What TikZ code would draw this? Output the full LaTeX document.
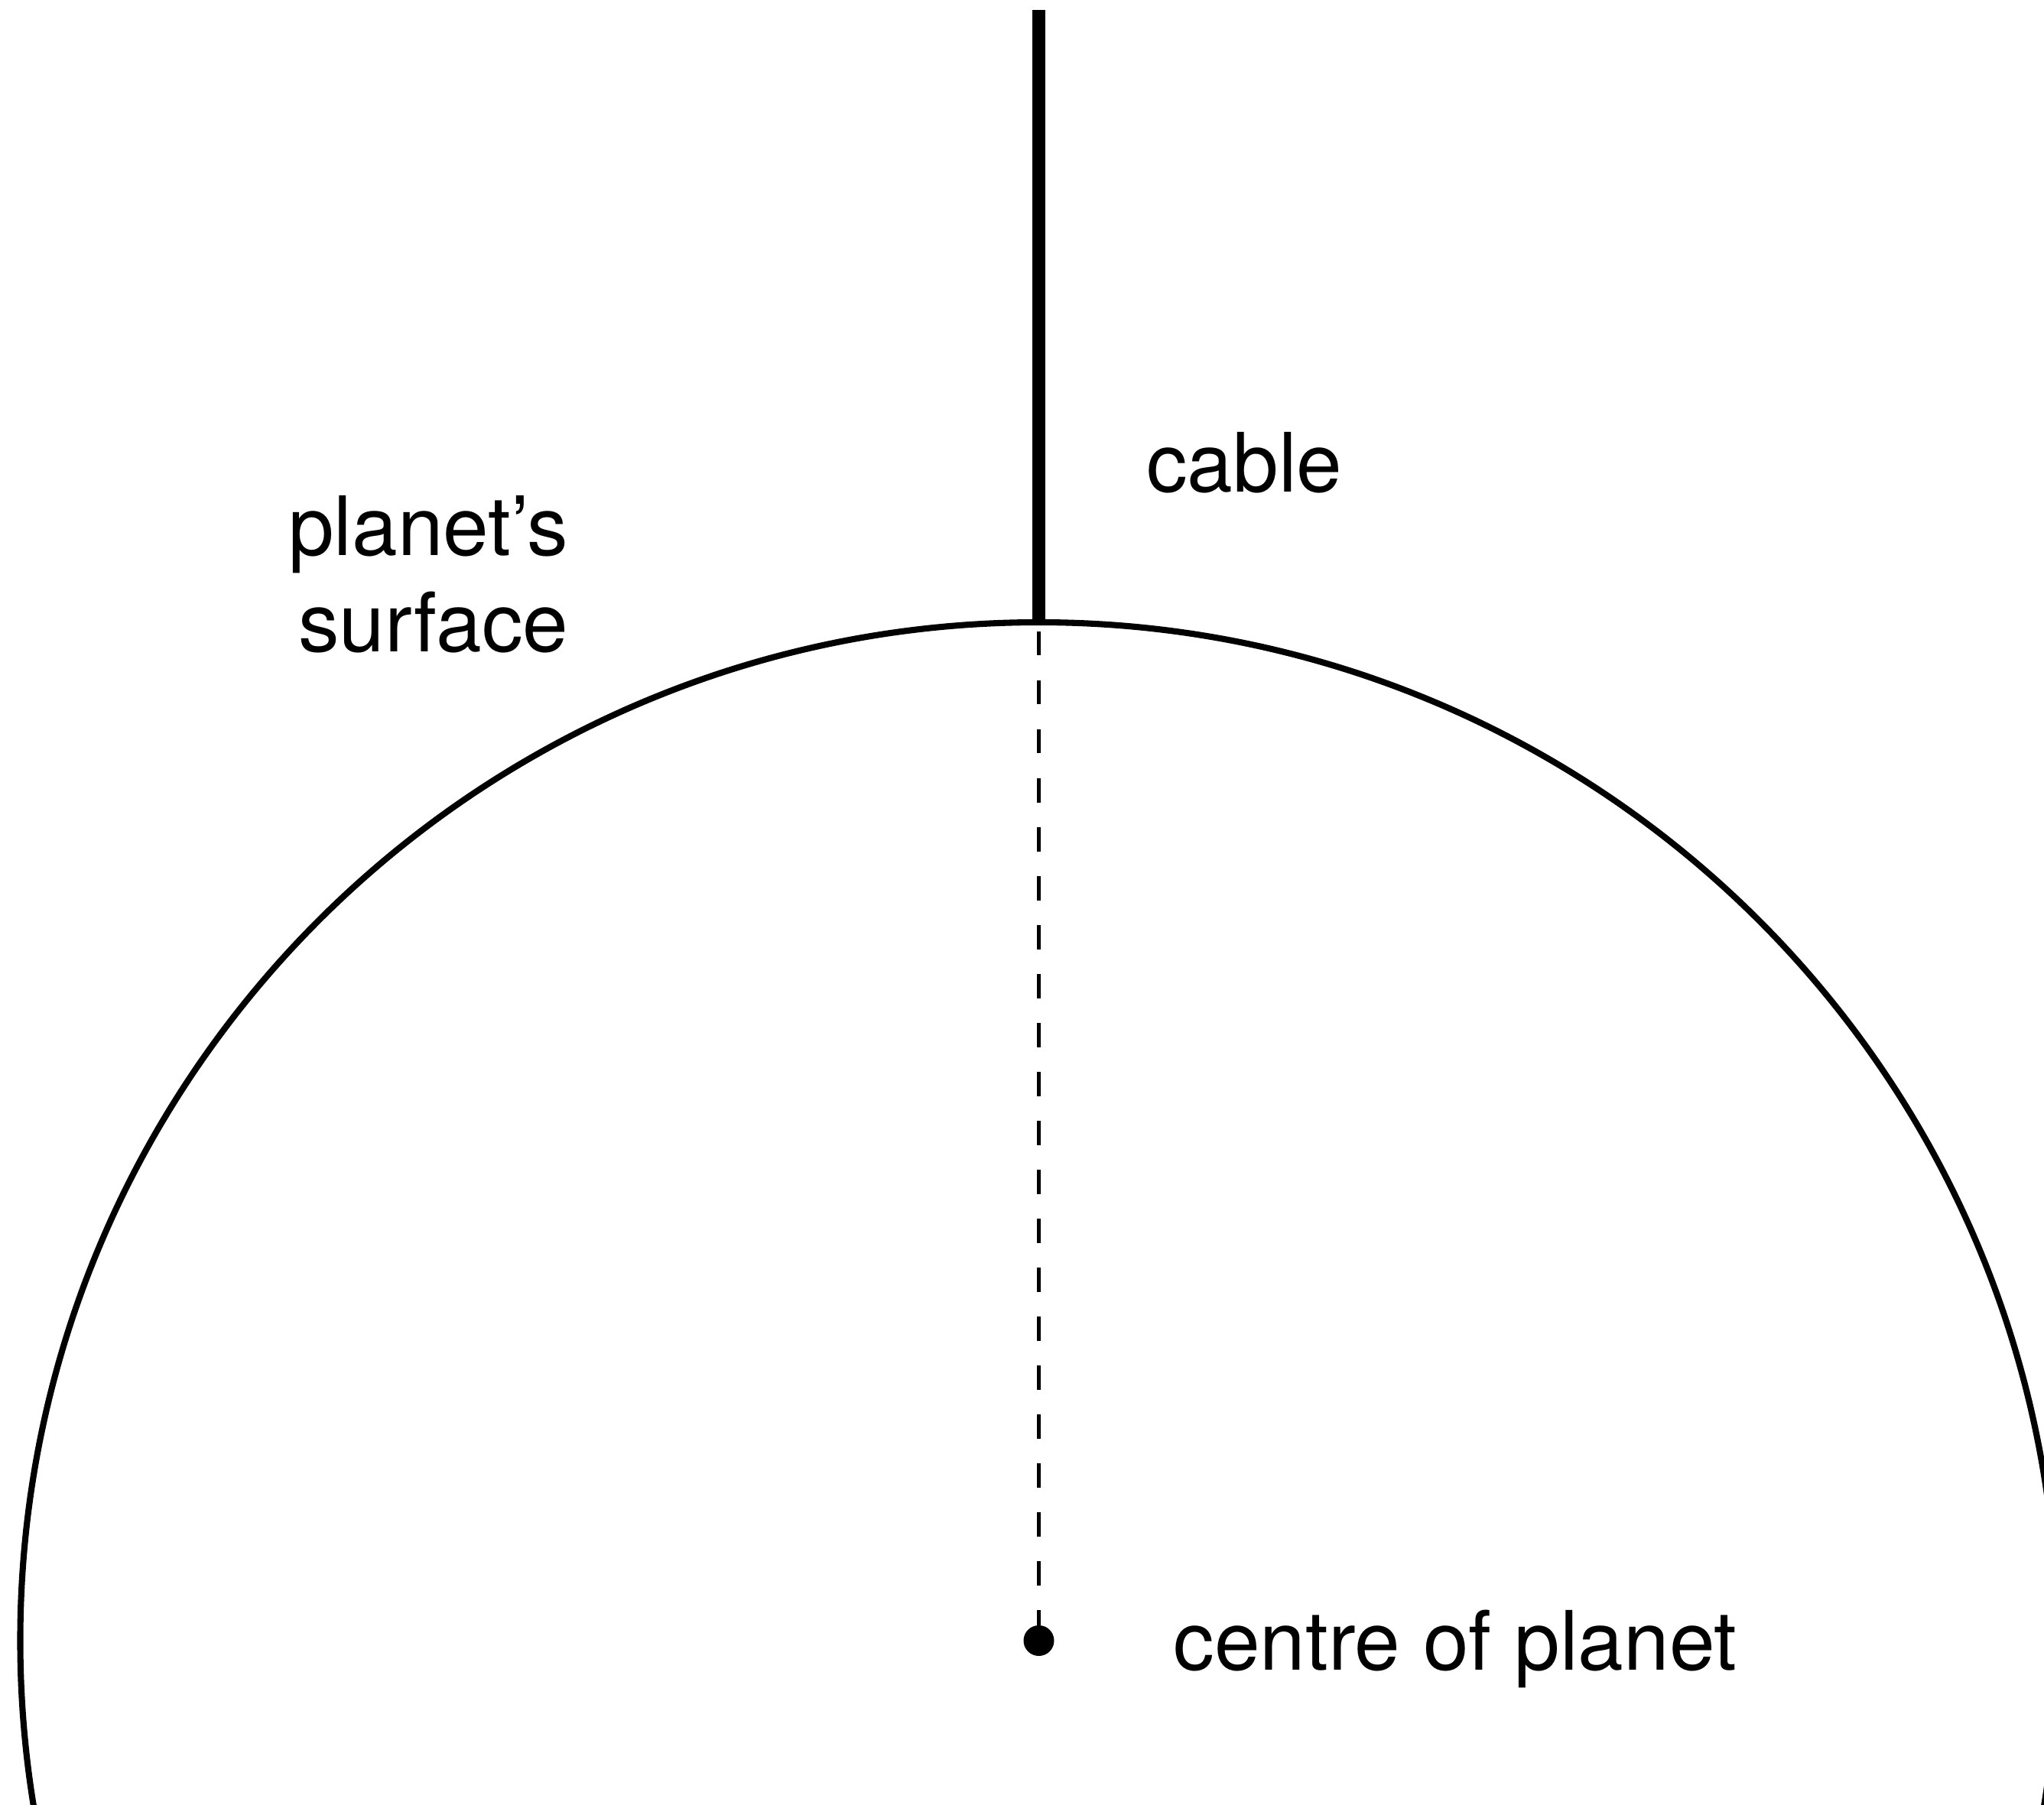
\documentclass[tikz,border=0pt]{standalone}
\usepackage{fontspec}
\setmainfont{TeX Gyre Heros}
\begin{document}
\begin{tikzpicture}[x=1cm,y=1cm,
  label text/.style={inner sep=0pt,font=\fontsize{30.5pt}{35.9pt}\selectfont}]
  \useasboundingbox (-13.585,-2.14) rectangle (13.145,21.46);
  \clip (-13.585,-2.14) rectangle (13.145,21.46);
  \coordinate (centre) at (0,0);
  \coordinate (surface) at (0,13.32);
  \coordinate (cabletop) at (0,21.33);
  \draw[line width=2.3pt] (centre) circle (13.32);
  \draw[line width=4.7pt] (surface) -- (cabletop);
  \draw[line width=1.45pt,dash pattern=on 0.315cm off 0.325cm,dash phase=0.52cm] (surface) -- (centre);
  \fill (centre) circle (0.2);
  \node[label text,anchor=base west] (cablelabel) at (1.40,15.02) {cable};
  \node[label text,anchor=base east,align=right] (surfacelabel) at (-6.145,12.93) {planet’s\\surface};
  \node[label text,anchor=base west] (centrelabel) at (1.755,-0.38) {centre of planet};
\end{tikzpicture}
\end{document}
